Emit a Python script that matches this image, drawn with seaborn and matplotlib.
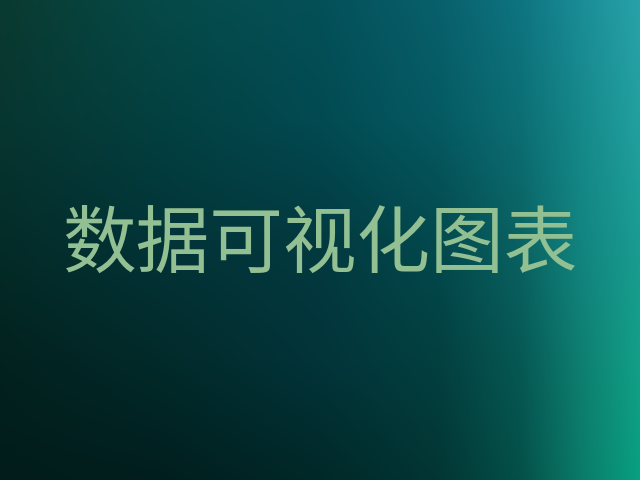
import numpy as np
import matplotlib
matplotlib.use("Agg")
import matplotlib.pyplot as plt
import seaborn as sns

title_text = "数据可视化图表"
title_color = "#93c093"

# background gradient colour grid: anchor columns (px from left) and rows (px from top)
bg_cols = [0, 160, 320, 440, 520, 580, 640]
bg_rows = [0, 120, 240, 360, 480]
bg_colors = [
    ["#0a3a30", "#064a48", "#045058", "#08606c", "#0e7480", "#1a8c96", "#28a2a8"],
    ["#073630", "#034040", "#024a52", "#055a62", "#0c6e74", "#15888a", "#22a0a0"],
    ["#042c28", "#023438", "#023a40", "#034a4e", "#0a6262", "#128480", "#1a9c92"],
    ["#02221f", "#022a2a", "#02343a", "#034040", "#065854", "#0e7e70", "#12a088"],
    ["#011c1a", "#011e1e", "#012828", "#023634", "#045048", "#0a7a68", "#08a080"],
]

sns.set_theme(style="white")
plt.rcParams["font.family"] = ["Noto Sans CJK SC", "DejaVu Sans"]

W, H = 640, 480
anchor = np.array([[matplotlib.colors.to_rgb(c) for c in row] for row in bg_colors])
xs = np.arange(W) + 0.5
ys = np.arange(H) + 0.5
# interpolate along x for each anchor row, then along y
tmp = np.stack([np.stack([np.interp(xs, bg_cols, anchor[r, :, ch]) for ch in range(3)], -1)
                for r in range(len(bg_rows))])  # rows x W x 3
img = np.empty((H, W, 3))
for ch in range(3):
    for j in range(W):
        img[:, j, ch] = np.interp(ys, bg_rows, tmp[:, j, ch])

fig = plt.figure(figsize=(6.4, 4.8), dpi=100)
ax = fig.add_axes([0, 0, 1, 1])
ax.imshow(img, extent=[0, 1, 0, 1], aspect="auto", interpolation="bilinear", origin="upper")
ax.set_xlim(0, 1)
ax.set_ylim(0, 1)
ax.axis("off")

ax.text(0.5, 0.488, title_text, color=title_color, fontsize=53,
        ha="center", va="center", transform=ax.transAxes)

fig.savefig("out.png", dpi=100)
